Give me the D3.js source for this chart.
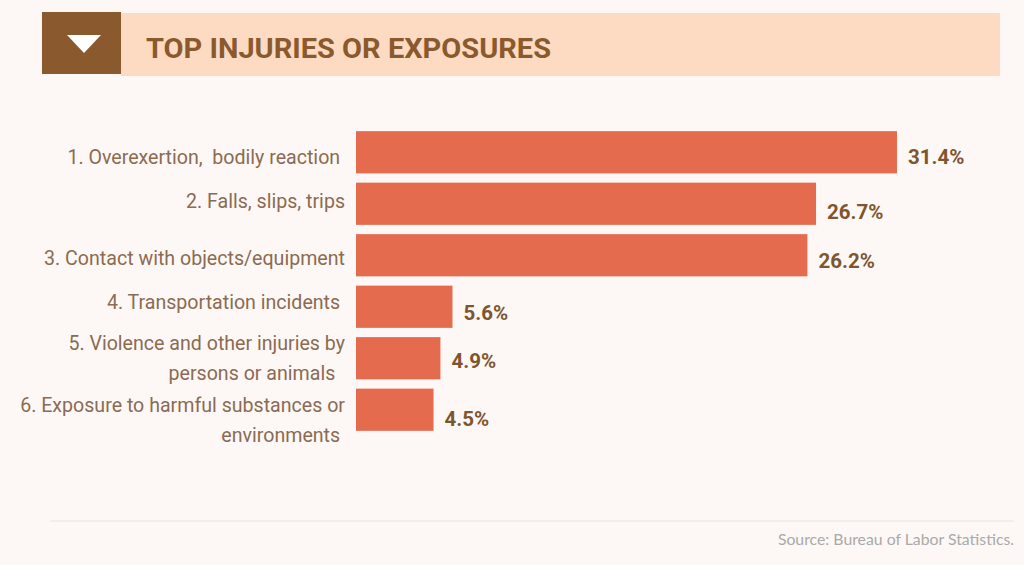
<!DOCTYPE html>
<html><head><meta charset="utf-8">
<script src="https://cdn.jsdelivr.net/npm/d3@7"></script>
<style>
html,body{margin:0;padding:0;background:#fdf8f5;}
svg{display:block;}
</style></head>
<body>
<svg id="chart" width="1024" height="565"></svg>
<script>
const title = "TOP INJURIES OR EXPOSURES";
const categories = [
  ["1. Overexertion,  bodily reaction "],
  ["2. Falls, slips, trips"],
  ["3. Contact with objects/equipment"],
  ["4. Transportation incidents "],
  ["5. Violence and other injuries by", "persons or animals  "],
  ["6. Exposure to harmful substances or", "environments "]
];
const values = [31.4, 26.7, 26.2, 5.6, 4.9, 4.5];
const valueLabels = ["31.4%", "26.7%", "26.2%", "5.6%", "4.9%", "4.5%"];
const source = "Source: Bureau of Labor Statistics.";

const svg = d3.select("#chart");
svg.append("rect").attr("width",1024).attr("height",565).attr("fill","#fdf8f5");

// header
svg.append("rect").attr("x",121).attr("y",13).attr("width",879).attr("height",63).attr("fill","#fcdbc2");
svg.append("rect").attr("x",42).attr("y",12).attr("width",79).attr("height",62).attr("fill","#8a5a2e");
svg.append("path").attr("d","M67,35 L101,35 L84,53 Z").attr("fill","#ffffff");
svg.append("text").attr("x",146).attr("y",58).text(title)
  .attr("font-family","Roboto").attr("font-weight","bold").attr("font-size",28)
  .attr("fill","#8a5a2e").attr("textLength",405).attr("lengthAdjust","spacingAndGlyphs");

const idx = d3.range(values.length);
const x = d3.scaleLinear().domain([0, 31.4]).range([356, 897]);
const y = d3.scaleBand().domain(idx).range([126, 436]).paddingInner(0.18).paddingOuter(0.1);

svg.append("g").selectAll("rect").data(idx).join("rect")
  .attr("x", x(0)).attr("y", i => y(i)).attr("width", i => x(values[i]) - x(0))
  .attr("height", y.bandwidth()).attr("fill", "#e56b4e");

const labelOffsets = [5, 8, 6, 6, 3, 9];
svg.append("g").selectAll("text").data(idx).join("text")
  .attr("x", i => x(values[i]) + 11)
  .attr("y", i => y(i) + y.bandwidth()/2 + labelOffsets[i])
  .attr("dy","0.35em")
  .text(i => valueLabels[i])
  .attr("font-family","Roboto").attr("font-weight","bold").attr("font-size",20.5)
  .attr("fill","#7f5530");

const lineOffsets = [5, -3, 3, -5, 0, 0];
const cat = svg.append("g").selectAll("text").data(idx).join("text")
  .attr("text-anchor","end")
  .attr("font-family","Roboto").attr("font-size",19.6).attr("fill","#8b6b52")
  .style("white-space","pre");
cat.each(function(i){
  const lines = categories[i];
  const cy = y(i) + y.bandwidth()/2 + lineOffsets[i];
  const t = d3.select(this);
  lines.forEach((l, k) => {
    t.append("tspan").attr("x", 345)
     .attr("y", lines.length === 1 ? cy : cy - 15 + k*30 + (i===5?10:0))
     .attr("dy","0.35em").text(l);
  });
});

svg.append("line").attr("x1",50).attr("x2",1014).attr("y1",521).attr("y2",521)
  .attr("stroke","#e9e1db").attr("stroke-width",1);
svg.append("text").attr("x",1014).attr("y",545).attr("text-anchor","end")
  .attr("font-family","Lato").attr("font-size",15.8).attr("fill","#aaaaaa").text(source);
</script>
</body></html>
